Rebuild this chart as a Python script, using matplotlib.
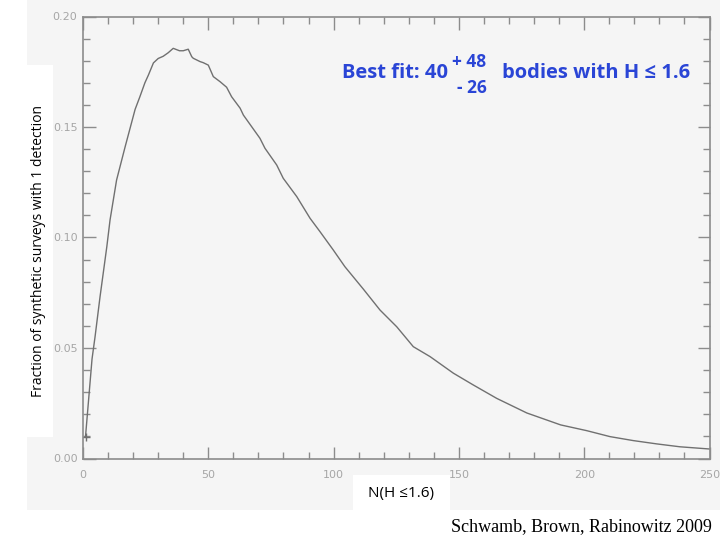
import matplotlib

matplotlib.use("Agg")
import matplotlib.pyplot as plt
from matplotlib.patches import Rectangle
from matplotlib.ticker import MultipleLocator

# N(H <= 1.6) and fraction of synthetic surveys with 1 detection
n_bodies = [1, 3.6, 4.8, 6.8, 9.5, 10.8, 13.4, 16.8, 20.8, 22.7, 24.7, 26.1,
            28.1, 30, 32, 34, 36, 38.5, 40, 42, 43.4, 44, 46.7, 48, 50, 52,
            54.7, 57.3, 59.3, 62.7, 64, 70.6, 72.6, 77.3, 79.9, 85.3, 90.6,
            94.6, 99.9, 104.5, 111.9, 118.5, 125.2, 131.8, 138.5, 147.8,
            155.7, 165.1, 177.1, 190.6, 201, 210.3, 219.6, 229, 238.2, 250]
fraction = [0.0099, 0.045, 0.055, 0.0732, 0.0958, 0.108, 0.126, 0.141, 0.158,
            0.1637, 0.170, 0.1735, 0.179, 0.181, 0.182, 0.1836, 0.1856, 0.1845,
            0.1845, 0.1852, 0.1818, 0.1811, 0.1796, 0.1791, 0.178, 0.1728,
            0.1705, 0.168, 0.1637, 0.1585, 0.1554, 0.1449, 0.1404, 0.1328,
            0.1268, 0.1185, 0.1087, 0.1026, 0.0943, 0.0868, 0.0766, 0.0672,
            0.0596, 0.0506, 0.0461, 0.0386, 0.0333, 0.0272, 0.0206, 0.0152,
            0.0126, 0.0099, 0.0081, 0.0066, 0.0053, 0.0043]

BG = "#f5f5f5"
AXIS = "#8c8c8c"
LABEL = "#a6a6a6"
BLUE = "#2a45d6"

fig = plt.figure(figsize=(7.2, 5.4), dpi=100)
fig.patch.set_facecolor("white")

# grey screenshot panel with white patches pasted over it
fig.add_artist(Rectangle((27 / 720, 30 / 540), 693 / 720, 510 / 540,
                         transform=fig.transFigure, facecolor=BG,
                         edgecolor="none", zorder=0))
fig.add_artist(Rectangle((0, 103 / 540), 53 / 720, 372 / 540,
                         transform=fig.transFigure, facecolor="white",
                         edgecolor="none", zorder=0.5))
fig.add_artist(Rectangle((353 / 720, 30 / 540), 97 / 720, 35 / 540,
                         transform=fig.transFigure, facecolor="white",
                         edgecolor="none", zorder=0.5))

ax = fig.add_axes([83 / 720, 1 - 458.5 / 540, 626.5 / 720, 442 / 540])
ax.set_facecolor(BG)
ax.plot(n_bodies, fraction, color="#707070", linewidth=1.0,
        marker="+", markevery=[0], markersize=6)

ax.set_xlim(0, 250)
ax.set_ylim(0, 0.20)
ax.xaxis.set_major_locator(MultipleLocator(50))
ax.xaxis.set_minor_locator(MultipleLocator(10))
ax.yaxis.set_major_locator(MultipleLocator(0.05))
ax.yaxis.set_minor_locator(MultipleLocator(0.01))
ax.yaxis.set_major_formatter(lambda v, p: f"{v:.2f}")
ax.tick_params(which="both", direction="in", top=True, right=True,
               color=AXIS, labelcolor=LABEL, labelsize=8, width=1)
ax.tick_params(which="major", length=9)
ax.tick_params(which="minor", length=5)
ax.tick_params(axis="x", pad=8)
ax.tick_params(axis="y", pad=4)
for s in ax.spines.values():
    s.set_color(AXIS)
    s.set_linewidth(1.2)

fig.text(39 / 720, 1 - 251 / 540, "Fraction of synthetic surveys with 1 detection",
         rotation=90, ha="center", va="center", fontsize=10,
         family="Open Sans", color="black")
fig.text(401 / 720, 1 - 494 / 540, "N(H \u22641.6)", ha="center", va="center",
         fontsize=11, family="Open Sans", color="black")
fig.text(712 / 720, 1 - 527 / 540, "Schwamb, Brown, Rabinowitz 2009",
         ha="right", va="center", fontsize=13, family="Liberation Serif",
         color="black")

# best fit annotation
fig.text(342 / 720, 1 - 73 / 540, "Best fit: 40", ha="left", va="center",
         fontsize=14.5, fontweight="bold", family="Open Sans", color=BLUE)
fig.text(469 / 720, 1 - 62 / 540, "+ 48", ha="center", va="center",
         fontsize=12.5, fontweight="bold", family="Open Sans", color=BLUE)
fig.text(472 / 720, 1 - 88 / 540, "- 26", ha="center", va="center",
         fontsize=12.5, fontweight="bold", family="Open Sans", color=BLUE)
fig.text(502 / 720, 1 - 73 / 540, "bodies with H \u2264 1.6", ha="left",
         va="center", fontsize=14.5, fontweight="bold",
         family=["Open Sans", "DejaVu Sans"], color=BLUE)

fig.savefig("out.png", dpi=100)
